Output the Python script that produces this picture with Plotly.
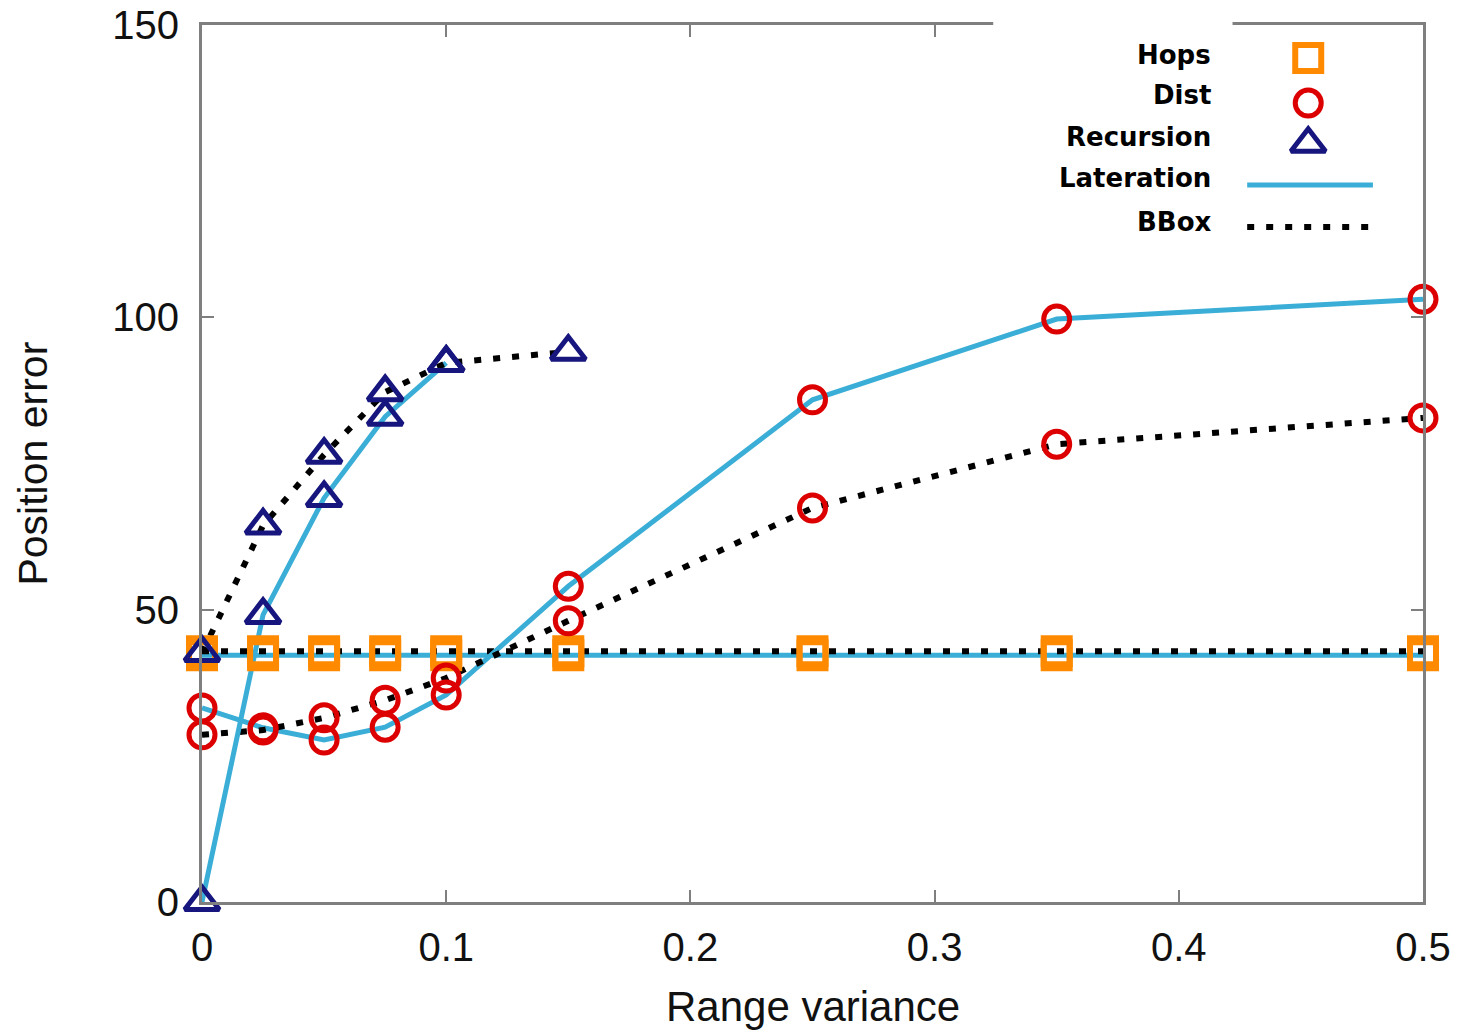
import plotly.graph_objects as go

# Range variance values at which each method was evaluated
x_all = [0, 0.025, 0.05, 0.075, 0.1, 0.15, 0.25, 0.35, 0.5]
x_rec_lat = [0, 0.025, 0.05, 0.075, 0.1]
x_rec_bbox = [0, 0.025, 0.05, 0.075, 0.1, 0.15]

# Position error per method/phase combination
hops_lat = [42.2, 42.2, 42.2, 42.2, 42.2, 42.2, 42.2, 42.2, 42.2]
hops_bbox = [42.9, 42.9, 42.9, 42.9, 42.9, 42.9, 42.9, 42.9, 42.9]
dist_lat = [33.2, 29.8, 27.7, 29.9, 35.4, 54.0, 85.9, 99.7, 103.1]
dist_bbox = [28.6, 29.4, 31.5, 34.5, 38.3, 48.1, 67.4, 78.3, 82.8]
rec_lat = [0.0, 49.1, 69.1, 83.0, 92.2]
rec_bbox = [42.6, 64.4, 76.5, 87.2, 92.2, 94.1]

legend_labels = ["Hops", "Dist", "Recursion", "Lateration", "BBox"]

ORANGE = "#FF8A00"
RED = "#DD0000"
NAVY = "#16167E"
BLUE = "#3AAED6"
FRAME = "#7f7f7f"
DOT = "7px,12px"
AXIS_FONT = "Liberation Sans, Arial"

fig = go.Figure()

lines = [
    (x_all, hops_lat, "lat"), (x_all, hops_bbox, "bbox"),
    (x_all, dist_lat, "lat"), (x_all, dist_bbox, "bbox"),
    (x_rec_lat, rec_lat, "lat"), (x_rec_bbox, rec_bbox, "bbox"),
]
for xs, ys, kind in lines:
    if kind == "lat":
        style = dict(color=BLUE, width=5)
    else:
        style = dict(color="black", width=6, dash=DOT)
    fig.add_trace(go.Scatter(x=xs, y=ys, mode="lines", line=style,
                             showlegend=False, cliponaxis=False, hoverinfo="skip"))

sq = dict(symbol="square-open", size=26, color=ORANGE, line=dict(width=6, color=ORANGE))
ci = dict(symbol="circle-open", size=26, color=RED, line=dict(width=5, color=RED))
tr = dict(symbol="triangle-up-open", size=30, color=NAVY, line=dict(width=5, color=NAVY))

markers = [
    (x_all, hops_lat, sq), (x_all, hops_bbox, sq),
    (x_all, dist_lat, ci), (x_all, dist_bbox, ci),
    (x_rec_lat, rec_lat, tr), (x_rec_bbox, rec_bbox, tr),
]
for xs, ys, m in markers:
    fig.add_trace(go.Scatter(x=xs, y=ys, mode="markers", marker=m,
                             showlegend=False, cliponaxis=False))

# Key: symbols on a hidden overlay axis, labels as annotations to their left
key_x = 0.906
key_rows = [0.9624, 0.9110, 0.8646, 0.8176, 0.7697]
for y, m in zip(key_rows[:3], [sq, ci, tr]):
    fig.add_trace(go.Scatter(x=[key_x], y=[y], mode="markers", marker=m,
                             xaxis="x2", yaxis="y2", showlegend=False,
                             cliponaxis=False, hoverinfo="skip"))
fig.add_trace(go.Scatter(x=[0.856, 0.959], y=[key_rows[3]] * 2, mode="lines",
                         line=dict(color=BLUE, width=5), xaxis="x2", yaxis="y2",
                         showlegend=False, hoverinfo="skip"))
fig.add_trace(go.Scatter(x=[0.856, 0.959], y=[key_rows[4]] * 2, mode="lines",
                         line=dict(color="black", width=6, dash=DOT), xaxis="x2", yaxis="y2",
                         showlegend=False, hoverinfo="skip"))

text_rows = [0.9658, 0.9202, 0.8723, 0.8255, 0.7754]
annotations = [
    dict(x=0.828, y=y, xref="paper", yref="paper", text=f"<b>{t}</b>",
         showarrow=False, xanchor="right", yanchor="middle",
         font=dict(family="DejaVu Sans", size=26, color="black"))
    for t, y in zip(legend_labels, text_rows)
]
# Axis titles
annotations += [
    dict(x=0.5, y=-0.1197, xref="paper", yref="paper", text="Range variance",
         showarrow=False, xanchor="center", yanchor="middle",
         font=dict(family=AXIS_FONT, size=42, color="#111")),
    dict(x=-0.1392, y=0.5, xref="paper", yref="paper", text="Position error",
         showarrow=False, xanchor="center", yanchor="middle", textangle=-90,
         font=dict(family=AXIS_FONT, size=41, color="#111")),
]

axis_common = dict(
    showline=True, linecolor=FRAME, linewidth=3, mirror="ticks",
    ticks="inside", ticklen=12, tickwidth=2, tickcolor=FRAME,
    showgrid=False, zeroline=False, automargin=False,
    tickfont=dict(family=AXIS_FONT, size=40, color="#111"),
)

fig.update_layout(
    width=1468, height=1030,
    margin=dict(l=202, r=45, t=25, b=128),
    paper_bgcolor="white", plot_bgcolor="white",
    xaxis=dict(range=[0, 0.5], tickvals=[0, 0.1, 0.2, 0.3, 0.4, 0.5],
               ticktext=["0", "0.1", "0.2", "0.3", "0.4", "0.5"],
               ticklabelstandoff=8, **axis_common),
    yaxis=dict(range=[0, 150], tickvals=[0, 50, 100, 150],
               ticklabelstandoff=12, **axis_common),
    xaxis2=dict(overlaying="x", range=[0, 1], visible=False),
    yaxis2=dict(overlaying="y", range=[0, 1], visible=False),
    annotations=annotations,
    shapes=[dict(type="rect", xref="paper", yref="paper", x0=0.648, x1=0.844,
                 y0=0.985, y1=1.02, fillcolor="white", line=dict(width=0), layer="above")],
)

fig.write_html("out.html")
